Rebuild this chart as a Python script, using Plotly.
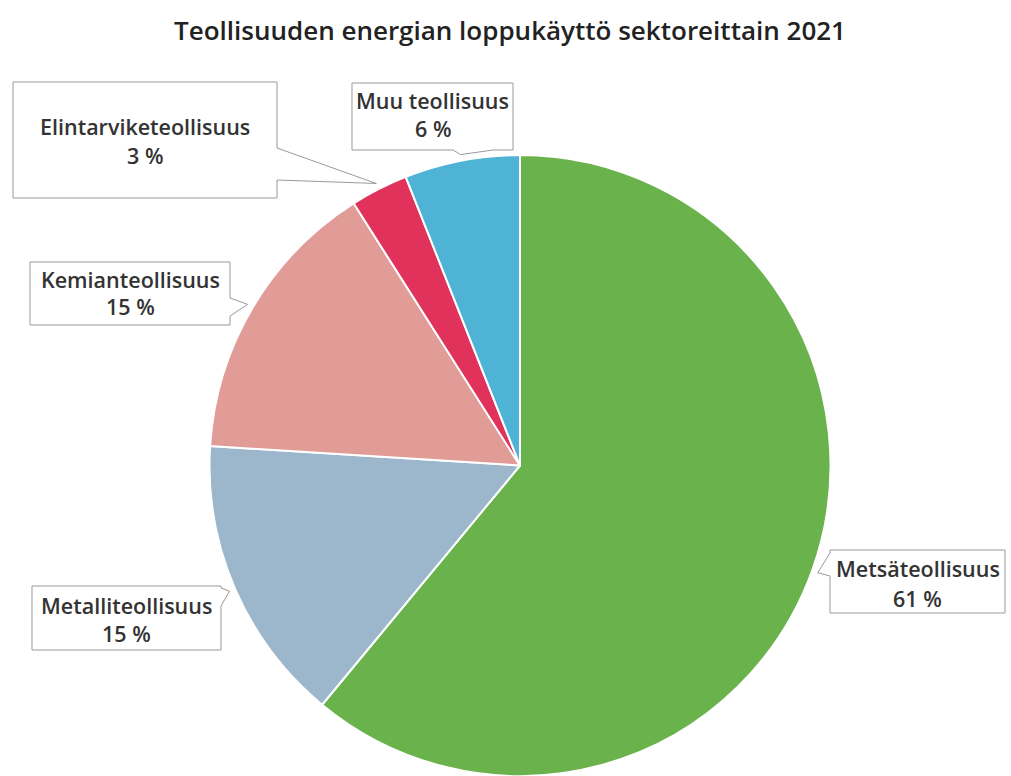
import math
import plotly.graph_objects as go

W, H = 1011, 776

title = "Teollisuuden energian loppukäyttö sektoreittain 2021"
sectors = ["Metsäteollisuus", "Metalliteollisuus", "Kemianteollisuus",
           "Elintarviketeollisuus", "Muu teollisuus"]
shares = [61, 15, 15, 3, 6]
colors = ["#69b24c", "#9cb6cc", "#e19c97", "#e0325a", "#4fb3d6"]

# callout boxes (pixel layout): x0, y0, x1, y1, wedge side, wedge base a, b
boxes = {
    "Metsäteollisuus": (830, 550, 1005, 613, "left", 553, 576),
    "Metalliteollisuus": (32, 586, 221, 650, "right", 588, 606),
    "Kemianteollisuus": (30, 262, 230, 325, "right", 298, 316),
    "Elintarviketeollisuus": (13, 82, 277, 198, "right", 148, 180),
    "Muu teollisuus": (352, 83, 513, 150, "bottom", 453, 493),
}
text_y = {  # first line y, second line y (pixels)
    "Metsäteollisuus": (568, 598),
    "Metalliteollisuus": (605, 633),
    "Kemianteollisuus": (279, 307),
    "Elintarviketeollisuus": (127, 156),
    "Muu teollisuus": (101, 129),
}

def px(x):
    return x / W

def py(y):
    return 1 - y / H

# pie geometry
dx0, dx1 = 209, 831
dy0, dy1 = 155, 776
cx = (dx0 + dx1) / 2
cy = (dy0 + dy1) / 2
r = min(dx1 - dx0, dy1 - dy0) / 2

fig = go.Figure(go.Pie(
    labels=sectors, values=shares, sort=False, direction="clockwise",
    rotation=0, textinfo="none", hole=0,
    marker=dict(colors=colors, line=dict(color="white", width=2)),
    domain=dict(x=[px(dx0), px(dx1)], y=[py(dy1), py(dy0)]),
    showlegend=False,
))

total = sum(shares)
cum = 0
shapes = []
annotations = []
for name, v in zip(sectors, shares):
    mid = (cum + v / 2) / total * 2 * math.pi
    cum += v
    tx = cx + (r + 6) * math.sin(mid)
    ty = cy - (r + 6) * math.cos(mid)
    x0, y0, x1, y1, side, a, b = boxes[name]
    if side == "right":
        pts = [(x0, y0), (x1, y0), (x1, a), (tx, ty), (x1, b), (x1, y1), (x0, y1)]
    elif side == "left":
        pts = [(x0, y0), (x1, y0), (x1, y1), (x0, y1), (x0, b), (tx, ty), (x0, a)]
    else:
        pts = [(x0, y0), (x1, y0), (x1, y1), (b, y1), (tx, ty), (a, y1), (x0, y1)]
    path = "M " + " L ".join(f"{px(p[0]):.5f},{py(p[1]):.5f}" for p in pts) + " Z"
    shapes.append(dict(type="path", xref="paper", yref="paper", path=path,
                       fillcolor="white", line=dict(color="#9a9a9a", width=1),
                       layer="above"))
    xc = (x0 + x1) / 2
    l1, l2 = text_y[name]
    for txt, yy in ((name, l1), (f"{v} %", l2)):
        annotations.append(dict(text=txt, x=px(xc), y=py(yy), xref="paper", yref="paper",
                                xanchor="center", yanchor="middle", showarrow=False,
                                font=dict(family="Open Sans", size=21.5, weight=600,
                                          color="#333333")))

annotations.append(dict(text=title, x=px(510), y=py(30), xref="paper", yref="paper",
                        xanchor="center", yanchor="middle", showarrow=False,
                        font=dict(family="Open Sans", size=26, weight=600,
                                  color="#222222")))

fig.update_layout(width=W, height=H, margin=dict(l=0, r=0, t=0, b=0),
                  paper_bgcolor="white", plot_bgcolor="white",
                  shapes=shapes, annotations=annotations)

fig.write_html("out.html")
